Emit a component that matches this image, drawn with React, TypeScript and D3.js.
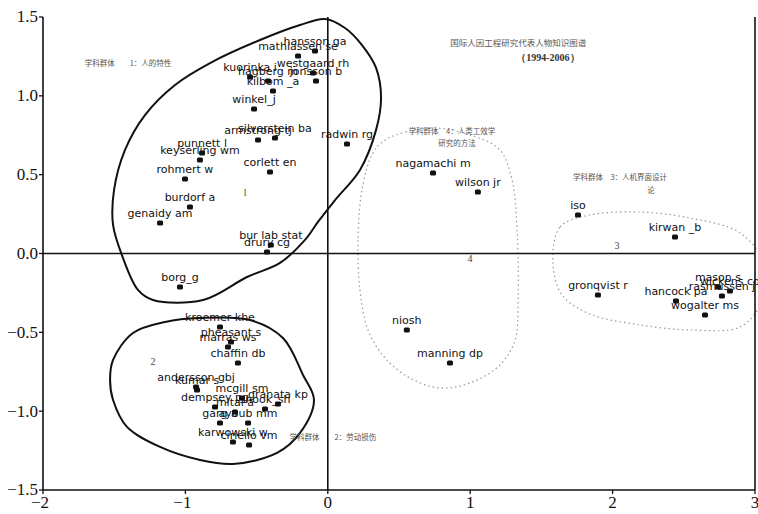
import React from "react";
import * as d3 from "d3";

// ---- data ----
const names = [
  "hansson ga", "mathiassen se", "westgaard rh", "kuorinka i", "hagberg m", "jonsson b", "kilbom _a", "winkel_j",
  "armstrong tj", "silverstein ba", "radwin rg", "punnett l", "keyserling wm", "rohmert w", "corlett en",
  "burdorf a", "genaidy am", "bur lab stat", "drury cg", "borg_g",
  "kroemer khe", "pheasant s", "marras ws", "chaffin db", "andersson gbj", "kumar s", "mcgill sm", "granata kp",
  "dempsey pg", "mital a", "snook_sh", "garg a", "ayoub mm", "karwowski w", "ciriello vm",
  "nagamachi m", "wilson jr", "niosh", "manning dp",
  "iso", "kirwan _b", "gronqvist r", "hancock pa", "wogalter ms", "mason s", "wickens cd", "rasmussen j",
];
const dim1 = [
  -0.09, -0.209, -0.104, -0.546, -0.42, -0.083, -0.385, -0.518,
  -0.49, -0.371, 0.135, -0.883, -0.898, -1.003, -0.406,
  -0.968, -1.178, -0.4, -0.427, -1.038,
  -0.757, -0.68, -0.701, -0.631, -0.925, -0.918, -0.603, -0.35,
  -0.792, -0.652, -0.441, -0.757, -0.56, -0.666, -0.553,
  0.739, 1.054, 0.555, 0.858,
  1.757, 2.438, 1.897, 2.445, 2.649, 2.74, 2.824, 2.768,
];
const dim2 = [
  1.284, 1.253, 1.145, 1.119, 1.094, 1.094, 1.031, 0.916,
  0.72, 0.733, 0.694, 0.637, 0.593, 0.473, 0.517,
  0.295, 0.193, 0.054, 0.01, -0.212,
  -0.466, -0.561, -0.593, -0.694, -0.847, -0.866, -0.916, -0.955,
  -0.974, -1.005, -0.986, -1.075, -1.075, -1.196, -1.215,
  0.511, 0.39, -0.485, -0.694,
  0.244, 0.105, -0.263, -0.301, -0.39, -0.212, -0.238, -0.27,
];

const xTicks = [-2, -1, 0, 1, 2, 3];
const yTicks = [-1.5, -1.0, -0.5, 0.0, 0.5, 1.0, 1.5];

// cluster outlines (data units)
const group1: [number, number][] = [
  [-1.438, -0.029], [-1.508, 0.181], [-1.501, 0.403], [-1.424, 0.657], [-1.284, 0.878], [-1.073, 1.069],
  [-0.827, 1.208], [-0.476, 1.354], [-0.195, 1.449], [-0.02, 1.487], [0.121, 1.43], [0.24, 1.322],
  [0.339, 1.177], [0.374, 0.987], [0.339, 0.784], [0.226, 0.53], [0.051, 0.339], [-0.069, 0.2],
  [-0.16, 0.086], [-0.336, -0.06], [-0.567, -0.149], [-0.876, -0.295], [-1.228, -0.295], [-1.333, -0.231],
];
const group2: [number, number][] = [
  [-1.508, -0.675], [-1.368, -0.504], [-1.143, -0.434], [-0.897, -0.409], [-0.546, -0.422], [-0.315, -0.536],
  [-0.174, -0.771], [-0.097, -0.929], [-0.195, -1.138], [-0.357, -1.265], [-0.666, -1.335], [-0.897, -1.31],
  [-1.178, -1.227], [-1.41, -1.1], [-1.508, -0.929], [-1.529, -0.802],
];
const group4: [number, number][] = [
  [0.402, 0.72], [0.718, 0.796], [0.999, 0.752], [1.209, 0.656], [1.294, 0.466], [1.329, 0.149],
  [1.336, -0.295], [1.315, -0.549], [1.209, -0.707], [0.999, -0.821], [0.788, -0.853], [0.577, -0.79],
  [0.402, -0.663], [0.282, -0.485], [0.226, -0.231], [0.212, 0.086], [0.24, 0.403], [0.31, 0.625],
];
const group3: [number, number][] = [
  [1.581, -0.054], [1.631, 0.168], [1.841, 0.244], [2.192, 0.263], [2.544, 0.225], [2.895, 0.13],
  [3.07, -0.073], [3.035, -0.327], [2.895, -0.466], [2.544, -0.485], [2.192, -0.453], [1.841, -0.384],
  [1.645, -0.263],
];

// annotations
const noteTexts = [
  "学科群体　　1：人的特性",
  "学科群体　　2：劳动损伤",
  "学科群体　4：人类工效学",
  "研究的方法",
  "学科群体　3：人机界面设计",
  "论",
  "国际人因工程研究代表人物知识图谱",
];
const noteX = [-1.403, 0.036, 0.872, 0.908, 2.052, 2.27, 1.337];
const noteY = [1.208, -1.164, 0.777, 0.701, 0.485, 0.403, 1.335];
const subTitle = "（1994-2006）";
const subX = 1.546;
const subY = 1.246;
const groupNums = ["2", "4", "3", "l"];
const groupNumX = [-1.227, 0.999, 2.031, -0.581];
const groupNumY = [-0.688, -0.029, 0.048, 0.384];

const W = 758;
const H = 514;

export default function App() {
  const x = d3.scaleLinear().domain([-2, 3]).range([43, 755]);
  const y = d3.scaleLinear().domain([-1.5, 1.5]).range([490, 17]);
  const closed = d3
    .line<[number, number]>()
    .x((d) => x(d[0]))
    .y((d) => y(d[1]))
    .curve(d3.curveCatmullRomClosed.alpha(0.5));
  const fmt = (v: number) => (v < 0 ? "\u2212" : "") + Math.abs(v).toFixed(1);
  const serif = "'Liberation Serif', 'DejaVu Serif', serif";
  const cjk = "'Noto Sans CJK SC', sans-serif";

  return (
    <svg
      width={W}
      height={H}
      viewBox={`0 0 ${W} ${H}`}
      style={{ position: "absolute", left: 0, top: 0, background: "#fff" }}
    >
      <rect x={0} y={0} width={W} height={H} fill="#fff" />
      <defs>
        <clipPath id="plotClip">
          <rect x={0} y={0} width={W} height={H} />
        </clipPath>
      </defs>

      {/* cluster outlines */}
      <path d={closed(group1) || ""} fill="none" stroke="#111" strokeWidth={2} />
      <path d={closed(group2) || ""} fill="none" stroke="#111" strokeWidth={2} />
      <path d={closed(group4) || ""} fill="none" stroke="#999" strokeWidth={1.2} strokeDasharray="1.5 3" />
      <path d={closed(group3) || ""} fill="none" stroke="#999" strokeWidth={1.2} strokeDasharray="1.5 3" />

      {/* zero lines and frame */}
      <line x1={x(-2)} x2={x(3)} y1={y(0)} y2={y(0)} stroke="#111" strokeWidth={1.6} />
      <line x1={x(0)} x2={x(0)} y1={y(1.5)} y2={y(-1.5)} stroke="#111" strokeWidth={1.6} />
      <line x1={x(3)} x2={x(3)} y1={y(1.5)} y2={y(-1.5)} stroke="#111" strokeWidth={1.6} />
      <line x1={x(-2)} x2={x(-2)} y1={y(1.5)} y2={y(-1.5)} stroke="#111" strokeWidth={1.6} />
      <line x1={x(-2)} x2={x(3)} y1={y(-1.5)} y2={y(-1.5)} stroke="#111" strokeWidth={1.6} />

      {/* y axis */}
      {yTicks.map((t) => (
        <g key={"y" + t}>
          <line x1={x(-2) - 4} x2={x(-2)} y1={y(t)} y2={y(t)} stroke="#111" strokeWidth={1.3} />
          <text
            x={x(-2) - 5}
            y={y(t)}
            dy="0.32em"
            textAnchor="end"
            fontFamily={serif}
            fontSize={17}
            fill="#111"
          >
            {fmt(t)}
          </text>
        </g>
      ))}
      {/* x axis */}
      {xTicks.map((t) => (
        <g key={"x" + t}>
          <line x1={x(t)} x2={x(t)} y1={y(-1.5)} y2={y(-1.5) + 4} stroke="#111" strokeWidth={1.3} />
          <text
            x={x(t) - (t < 0 ? 3 : 0)}
            y={y(-1.5) + 18}
            textAnchor="middle"
            fontFamily={serif}
            fontSize={17}
            fill="#111"
          >
            {t < 0 ? "\u2212" + Math.abs(t) : String(t)}
          </text>
        </g>
      ))}

      {/* annotations */}
      {noteTexts.map((t, i) => (
        <text
          key={"n" + i}
          x={x(noteX[i])}
          y={y(noteY[i])}
          dy="0.35em"
          textAnchor="middle"
          fontFamily={cjk}
          fontSize={i === 6 ? 8.5 : 7.5}
          fill="#555"
        >
          {t}
        </text>
      ))}
      <text
        x={x(subX)}
        y={y(subY)}
        dy="0.35em"
        textAnchor="middle"
        fontFamily={serif}
        fontWeight="bold"
        fontSize={10}
        fill="#333"
      >
        {subTitle}
      </text>
      {groupNums.map((t, i) => (
        <text
          key={"g" + i}
          x={x(groupNumX[i])}
          y={y(groupNumY[i])}
          dy="0.35em"
          textAnchor="middle"
          fontFamily={serif}
          fontSize={10}
          fill="#444"
        >
          {t}
        </text>
      ))}

      {/* points and labels */}
      <g clipPath="url(#plotClip)">
        {names.map((n, i) => (
          <g key={n}>
            <rect
              x={x(dim1[i]) - 3}
              y={y(dim2[i]) - 2.5}
              width={6}
              height={5}
              rx={1.5}
              fill="#111"
            />
            <text
              x={x(dim1[i])}
              y={y(dim2[i]) - 6}
              textAnchor="middle"
              fontFamily="'DejaVu Sans', sans-serif"
              fontSize={11}
              fill="#111"
            >
              {n}
            </text>
          </g>
        ))}
      </g>
    </svg>
  );
}
